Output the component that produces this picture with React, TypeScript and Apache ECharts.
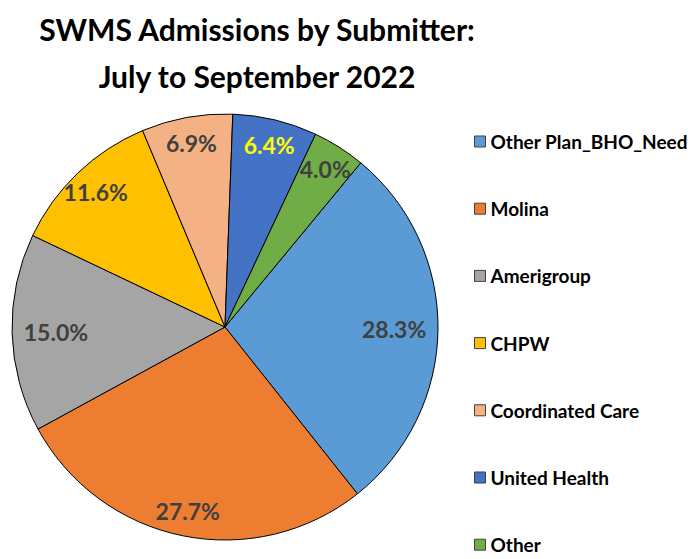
import React, { useEffect, useRef } from "react";
import * as echarts from "echarts";

const titleLines = ["SWMS Admissions by Submitter:", "July to September 2022"];
const categories = [
  "Other Plan_BHO_Need",
  "Molina",
  "Amerigroup",
  "CHPW",
  "Coordinated Care",
  "United Health",
  "Other",
];
const shares = [28.3, 27.7, 15.0, 11.6, 6.9, 6.4, 4.0];
const colors = ["#5B9BD5", "#ED7D31", "#A5A5A5", "#FFC000", "#F4B183", "#4472C4", "#70AD47"];
const labelColors = ["#404040", "#404040", "#404040", "#404040", "#404040", "#FFFF00", "#404040"];
// slices whose labels sit nearer the centre (Excel best fit)
const innerLabelNames = ["Other Plan_BHO_Need", "Amerigroup"];

export default function App() {
  const ref = useRef<HTMLDivElement>(null);
  useEffect(() => {
    document.body.style.margin = "0";
    const chart = echarts.init(ref.current!, null, { renderer: "svg" });
    const total = shares.reduce((a, b) => a + b, 0);
    // United Health and Other start just right of 12 o'clock; first slice follows them
    const tilt = 2.1;
    const startAngle = 90 - tilt - ((shares[5] + shares[6]) / total) * 360;
    const cx = 225;
    const cy = 327;
    const R = 213;
    const font = "Lato, 'Open Sans', sans-serif";

    const mainData = categories.map((name, i) => ({
      name,
      value: shares[i],
      itemStyle: { color: colors[i] },
    }));
    const labelData = (inner: boolean) =>
      categories.map((name, i) => ({
        name,
        value: shares[i],
        itemStyle: { color: "rgba(0,0,0,0)", borderWidth: 0 },
        label: {
          show: innerLabelNames.includes(name) === inner,
          color: labelColors[i],
        },
      }));
    const labelSeries = (inner: boolean) => ({
      type: "pie",
      center: [cx, cy],
      radius: [0, 2 * R * (inner ? 0.78 : 0.865)],
      startAngle,
      clockwise: true,
      silent: true,
      z: 5,
      avoidLabelOverlap: false,
      labelLine: { show: false },
      label: {
        position: "inside",
        fontFamily: font,
        fontWeight: "bold",
        fontSize: 23,
        formatter: (p: any) => p.value.toFixed(1) + "%",
      },
      data: labelData(inner),
    });

    chart.setOption({
      animation: false,
      backgroundColor: "#ffffff",
      title: {
        text: titleLines.join("\n"),
        left: 257,
        top: 5,
        padding: 0,
        textAlign: "center",
        textStyle: {
          fontFamily: font,
          fontWeight: "bold",
          fontSize: 30,
          lineHeight: 47,
          color: "#000000",
        },
      },
      legend: {
        orient: "vertical",
        left: 474,
        top: 132,
        padding: 0,
        itemWidth: 11,
        itemHeight: 11,
        itemGap: 48.2,
        icon: "rect",
        data: categories,
        itemStyle: { borderColor: "#404040", borderWidth: 1 },
        textStyle: {
          fontFamily: font,
          fontWeight: "bold",
          fontSize: 19,
          color: "#000000",
        },
      },
      series: [
        {
          type: "pie",
          center: [cx, cy],
          radius: [0, R],
          startAngle,
          clockwise: true,
          avoidLabelOverlap: false,
          label: { show: false },
          labelLine: { show: false },
          itemStyle: { borderColor: "#000000", borderWidth: 1 },
          emphasis: { disabled: true },
          data: mainData,
        },
        labelSeries(false),
        labelSeries(true),
      ],
    });
    return () => chart.dispose();
  }, []);
  return <div ref={ref} style={{ width: 697, height: 559 }} />;
}
